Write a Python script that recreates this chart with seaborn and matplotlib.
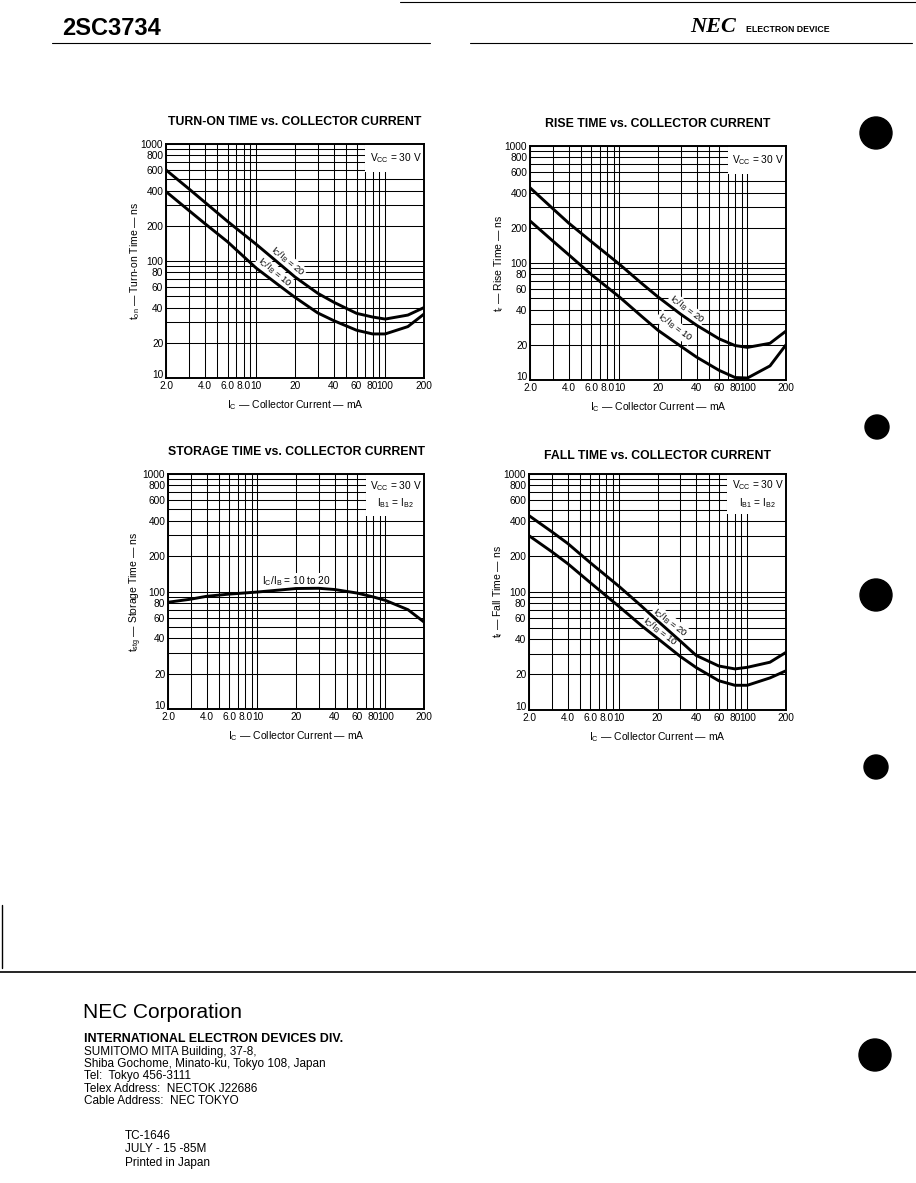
import numpy as np
import pandas as pd
import seaborn as sns
import matplotlib
matplotlib.use("Agg")
import matplotlib.pyplot as plt
from matplotlib.patches import Circle, Rectangle
from matplotlib.ticker import FixedLocator, NullFormatter

# ---------------- data ----------------
ic = [2, 3, 4, 6, 10, 15, 20, 30, 40, 60, 80, 100, 150, 200]

ton_20 = [600, 415, 318, 218, 139, 95.5, 73, 53, 44.4, 35.7, 33.2, 31.9, 34.5, 40]
ton_10 = [392, 271, 209, 146, 87, 62, 48.9, 36, 30.9, 25.6, 23.8, 23.8, 27.5, 35.2]

tr_20 = [440, 293, 220, 153, 97.5, 66.6, 51.3, 36.6, 29.4, 22.5, 19.7, 19.0, 20.6, 26.2]
tr_10 = [229, 155, 118, 80, 51.2, 34.8, 26.6, 19.5, 15.7, 12.1, 10.5, 10.4, 13.2, 20.0]

tstg = [81, 86, 91, 95, 99, 103, 106, 106.5, 104, 97, 90, 84, 70, 55]

tf_20 = [444, 325, 258, 177, 112, 76, 57, 38.5, 29, 23.6, 22.3, 23, 25.4, 30.8]
tf_10 = [300, 220, 174, 120, 75.6, 51.9, 40.5, 28.5, 22.9, 17.7, 16.2, 16.2, 18.7, 21.5]

x_ticks = [2, 4, 6, 8, 10, 20, 40, 60, 80, 100, 200]
x_tick_labels = ["2.0", "4.0", "6.0", "8.0", "10", "20", "40", "60", "80", "100", "200"]
y_ticks = [10, 20, 40, 60, 80, 100, 200, 400, 600, 800, 1000]
y_tick_labels = ["10", "20", "40", "60", "80", "100", "200", "400", "600", "800", "1000"]

titles = ["TURN-ON TIME vs. COLLECTOR CURRENT",
          "RISE TIME vs. COLLECTOR CURRENT",
          "STORAGE TIME vs. COLLECTOR CURRENT",
          "FALL TIME vs. COLLECTOR CURRENT"]
ylabels = [r"$\mathrm{t_{on}}$ — Turn-on Time — ns",
           r"$\mathrm{t_{r}}$ — Rise Time — ns",
           r"$\mathrm{t_{stg}}$ — Storage Time — ns",
           r"$\mathrm{t_{f}}$ — Fall Time — ns"]
xlabel = r"$\mathrm{I_C}$ — Collector Current — mA"

# ---------------- style ----------------
sns.set_theme(style="white")
plt.rcParams['font.family'] = ['Liberation Sans', 'DejaVu Sans']
plt.rcParams['mathtext.fontset'] = 'custom'
plt.rcParams['mathtext.rm'] = 'Liberation Sans'
for k in ['text.color', 'axes.labelcolor', 'xtick.color', 'ytick.color']:
    plt.rcParams[k] = 'black'

W, H = 916, 1183
fig = plt.figure(figsize=(W / 100, H / 100), dpi=100)
fig.patch.set_facecolor("white")

# overlay axes in pixel coordinates for page decorations
page = fig.add_axes([0, 0, 1, 1], zorder=0)
page.set_xlim(0, W)
page.set_ylim(H, 0)
page.axis("off")

def px_axes(l, t, r, b):
    return fig.add_axes([l / W, 1 - b / H, (r - l) / W, (b - t) / H], zorder=2)

boxes = [(166, 144, 424, 378), (530, 146, 786, 380),
         (168, 474, 424, 709), (529, 474, 786, 710)]
title_pads = [14, 14, 14, 11]

minor_x = [v for d in (1, 10, 100) for v in np.arange(2, 10) * d if 2 <= v <= 200 and v not in x_ticks]
minor_y = [v for d in (10, 100) for v in np.arange(2, 10) * d if v not in y_ticks]

def setup(ax, idx):
    ax.set_xscale("log")
    ax.set_yscale("log")
    ax.set_xlim(2, 200)
    ax.set_ylim(10, 1000)
    ax.set_axisbelow(True)
    ax.xaxis.set_major_locator(FixedLocator(x_ticks))
    ax.xaxis.set_minor_locator(FixedLocator(minor_x))
    ax.yaxis.set_major_locator(FixedLocator(y_ticks))
    ax.yaxis.set_minor_locator(FixedLocator(minor_y))
    ax.set_xticklabels(x_tick_labels)
    ax.set_yticklabels(y_tick_labels)
    ax.xaxis.set_minor_formatter(NullFormatter())
    ax.yaxis.set_minor_formatter(NullFormatter())
    ax.tick_params(which="both", length=0, labelsize=7.3, pad=2, colors="black")
    ax.get_yticklabels()[0].set_va("baseline")
    ax.grid(True, which="both", color="black", linewidth=0.75)
    for s in ax.spines.values():
        s.set_color("black")
        s.set_linewidth(1.4)
    ax.set_title(titles[idx], fontsize=8.8, fontweight="bold", pad=title_pads[idx])
    ax.set_xlabel(xlabel, fontsize=7.5, labelpad=5)
    ax.set_ylabel(ylabels[idx], fontsize=7.5, labelpad=-1)

def draw_pair(ax, y20, y10):
    df = pd.DataFrame({"Ic": ic * 2, "t": y20 + y10,
                       "ratio": ["20"] * len(ic) + ["10"] * len(ic)})
    sns.lineplot(data=df, x="Ic", y="t", hue="ratio",
                 palette={"20": "black", "10": "black"},
                 linewidth=2.1, legend=False, ax=ax, zorder=3)

def vcc_box(ax, lines, ybot):
    ax.add_patch(Rectangle((70, ybot), 130, 1000 - ybot, facecolor="white",
                           edgecolor="none", zorder=1))
    ax.text(120, 10 ** ((3 + np.log10(ybot)) / 2), "\n".join(lines),
            ha="center", va="center", fontsize=7.3, linespacing=1.35, zorder=4)

def curve_label(ax, x, y, s, rot):
    ax.text(x, y, s, rotation=rot, fontsize=6.8, ha="center", va="center",
            rotation_mode="anchor", zorder=2.5,
            bbox=dict(boxstyle="square,pad=0.08", facecolor="white", edgecolor="none"))

lab20 = r"$\mathrm{I_C/I_B}$ = 20"
lab10 = r"$\mathrm{I_C/I_B}$ = 10"

# chart 1
ax1 = px_axes(*boxes[0])
draw_pair(ax1, ton_20, ton_10)
setup(ax1, 0)
vcc_box(ax1, [r"$\mathrm{V_{CC}}$ = 30 V"], 580)
curve_label(ax1, 17.5, 99, lab20, -40)
curve_label(ax1, 13.8, 80, lab10, -40)

# chart 2
ax2 = px_axes(*boxes[1])
draw_pair(ax2, tr_20, tr_10)
setup(ax2, 1)
vcc_box(ax2, [r"$\mathrm{V_{CC}}$ = 30 V"], 580)
curve_label(ax2, 33.5, 40, lab20, -37)
curve_label(ax2, 27.2, 28, lab10, -37)

# chart 3
ax3 = px_axes(*boxes[2])
df3 = pd.DataFrame({"Ic": ic, "t": tstg})
sns.lineplot(data=df3, x="Ic", y="t", color="black", linewidth=2.1, ax=ax3, zorder=3)
setup(ax3, 2)
vcc_box(ax3, [r"$\mathrm{V_{CC}}$ = 30 V", r"$\mathrm{I_{B1}}$ = $\mathrm{I_{B2}}$"], 440)
ax3.text(20, 122, r"$\mathrm{I_C/I_B}$ = 10 to 20", fontsize=7.3,
         ha="center", va="center", zorder=2.5,
         bbox=dict(boxstyle="square,pad=0.1", facecolor="white", edgecolor="none"))

# chart 4
ax4 = px_axes(*boxes[3])
draw_pair(ax4, tf_20, tf_10)
setup(ax4, 3)
vcc_box(ax4, [r"$\mathrm{V_{CC}}$ = 30 V", r"$\mathrm{I_{B1}}$ = $\mathrm{I_{B2}}$"], 455)
curve_label(ax4, 25, 55, lab20, -38)
curve_label(ax4, 21, 46, lab10, -38)

# ---------------- page decorations ----------------
page.text(62, 28, "2SC3734", fontsize=17, fontweight="bold", ha="left", va="center")
page.text(690, 27, "NEC", fontsize=16, fontweight="bold", fontstyle="italic",
          family=["Liberation Serif", "DejaVu Serif"], ha="left", va="center")
page.text(746, 29, "ELECTRON DEVICE", fontsize=6.3, fontweight="bold",
          ha="left", va="center")
page.plot([52, 430], [43, 43], color="black", lw=0.8)
page.plot([470, 912], [43, 43], color="black", lw=0.8)
page.plot([400, 916], [1.5, 1.5], color="black", lw=0.8)
page.plot([0, 916], [972, 972], color="black", lw=1.2)
page.plot([2, 2], [905, 968], color="black", lw=1.0)

page.text(83, 1012, "NEC Corporation", fontsize=15,
          ha="left", va="center")
page.text(84, 1039, "INTERNATIONAL ELECTRON DEVICES DIV.", fontsize=9,
          fontweight="bold", ha="left", va="center")
foot = ["SUMITOMO MITA Building, 37-8,",
        "Shiba Gochome, Minato-ku, Tokyo 108, Japan",
        "Tel:  Tokyo 456-3111",
        "Telex Address:  NECTOK J22686",
        "Cable Address:  NEC TOKYO"]
for i, s in enumerate(foot):
    page.text(84, 1051.5 + i * 12.5, s, fontsize=8.5, ha="left", va="center")
for i, s in enumerate(["TC-1646", "JULY - 15 -85M", "Printed in Japan"]):
    page.text(125, 1136 + i * 13.5, s, fontsize=8.5, ha="left", va="center")

for (cx, cy, r) in [(876, 133, 16), (877, 427, 12), (876, 595, 16),
                    (876, 767, 12), (875, 1055, 16)]:
    page.add_patch(Circle((cx, cy), r, color="black"))

fig.savefig("out.png", dpi=100, facecolor="white")
